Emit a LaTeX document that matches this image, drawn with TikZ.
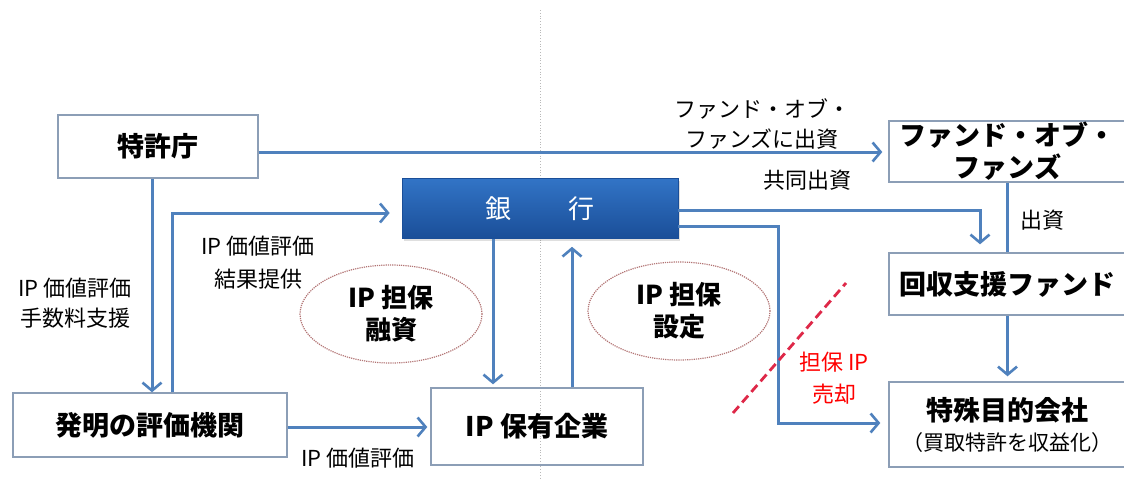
\documentclass[tikz,border=0pt]{standalone}
\usepackage{fontspec}
\setmainfont{Noto Sans CJK JP}
\usetikzlibrary{arrows.meta, positioning, calc, shapes.geometric, shadows}
\definecolor{linkblue}{RGB}{79,129,189}
\definecolor{frame}{RGB}{140,158,182}
\definecolor{bankhi}{RGB}{50,116,198}
\definecolor{banklo}{RGB}{26,78,152}
\definecolor{ovalred}{RGB}{178,116,116}
\definecolor{cutred}{RGB}{222,40,72}

\begin{document}
\begin{tikzpicture}[
    x=1pt, y=-1pt,
    box/.style={
        draw=frame, line width=1.4pt, rectangle, align=center, inner sep=0pt,
        font=\fontsize{27}{32}\selectfont\bfseries
    },
    bankbox/.style={
        rectangle, top color=bankhi, bottom color=banklo, draw=banklo,
        line width=0.6pt, text=white, inner sep=0pt,
        minimum width=276pt, minimum height=60pt,
        drop shadow={opacity=0.25, shadow xshift=2pt, shadow yshift=-2pt},
        font=\fontsize{26}{30}\selectfont
    },
    bubble/.style={
        ellipse, draw=ovalred, densely dotted, line width=1.2pt, align=center,
        inner sep=0pt, minimum width=182pt, minimum height=98pt,
        font=\fontsize{26}{32}\selectfont\bfseries
    },
    lbl/.style={align=center, inner sep=0pt, font=\fontsize{22}{30}\selectfont},
    arr/.style={draw=linkblue, line width=3pt,
        -{Straight Barb[length=8pt, width=19pt, line width=2.6pt]}},
    link/.style={draw=linkblue, line width=3pt},
    cut/.style={draw=cutred, line width=2.8pt, dash pattern=on 9pt off 5pt}
]
    \useasboundingbox (0,0) rectangle (1124,480);
    % centre divider
    \draw[gray!55, dotted, line width=0.8pt] (540,10) -- (540,480);

    \node (patent) [box, minimum width=200pt, minimum height=63pt] at (158,146.5) {特許庁};
    \node (bank) [bankbox] at (540,208.5) {銀\hspace{58pt}行};
    \node (fof) [box, minimum width=237pt, minimum height=61pt] at (1007.5,151.5) {ファンド・オブ・\\ファンズ};
    \node (recover) [box, minimum width=237pt, minimum height=62pt] at (1007.5,284) {回収支援ファンド};
    \node (spc) [box, minimum width=237pt, minimum height=85pt] at (1007.5,424.5)
        {特殊目的会社\\[-2pt]{\fontsize{21}{26}\selectfont\mdseries （買取特許を収益化）}};
    \node (holder) [box, minimum width=212pt, minimum height=77pt] at (537,426.5) {IP 保有企業};
    \node (assessor) [box, minimum width=274pt, minimum height=64pt] at (150,425) {発明の評価機関};

    \node (loan) [bubble] at (391,314) {IP 担保\\融資};
    \node (pledge) [bubble] at (679,311) {IP 担保\\設定};

    % connectors
    \draw[arr] ($(patent.east)+(0,5.5)$) -- ($(fof.west)+(-6,0.5)$);
    \draw[arr] ($(patent.south)+(-6,0)$) -- ($(assessor.north)+(2,0)$);
    \draw[arr] ($(assessor.north)+(22,0)$) |- ($(bank.west)+(-12,4.5)$);
    \draw[arr] ($(assessor.east)+(0,2)$) -- ($(holder.west)+(-3,0.5)$);
    \draw[arr] ($(bank.south)+(-47,0)$) -- ($(holder.north)+(-44,-3)$);
    \draw[arr] ($(holder.north)+(35,0)$) -- ($(bank.south)+(32,8)$);
    \draw[arr] ($(bank.east)+(0,1.5)$) -| ($(recover.north)+(-27.5,-8)$);
    \draw[arr] ($(bank.east)+(0,18)$) -- ++(100,0) |- ($(spc.west)+(-8,-1.5)$);
    \draw[link] (fof.south) -- (recover.north);
    \draw[arr] (recover.south) -- ($(spc.north)+(0,-5)$);
    \draw[cut] (733,413) -- (846,283);

    % labels
    \node (fundlbl) [lbl] at (762,124) {ファンド・オブ・\\ファンズに出資};
    \node (jointlbl) [lbl] at (807,180) {共同出資};
    \node (investlbl) [lbl] at (1042,220) {出資};
    \node (feelbl) [lbl] at (75,303) {IP 価値評価\\手数料支援};
    \node (resultlbl) [lbl, font=\fontsize{22}{33}\selectfont] at (258,263) {IP 価値評価\\結果提供};
    \node (evallbl) [lbl] at (358,458) {IP 価値評価};
    \node (salelbl) [lbl, text=red, font=\fontsize{22}{32}\selectfont] at (834,378) {担保 IP\\売却};
\end{tikzpicture}
\end{document}
